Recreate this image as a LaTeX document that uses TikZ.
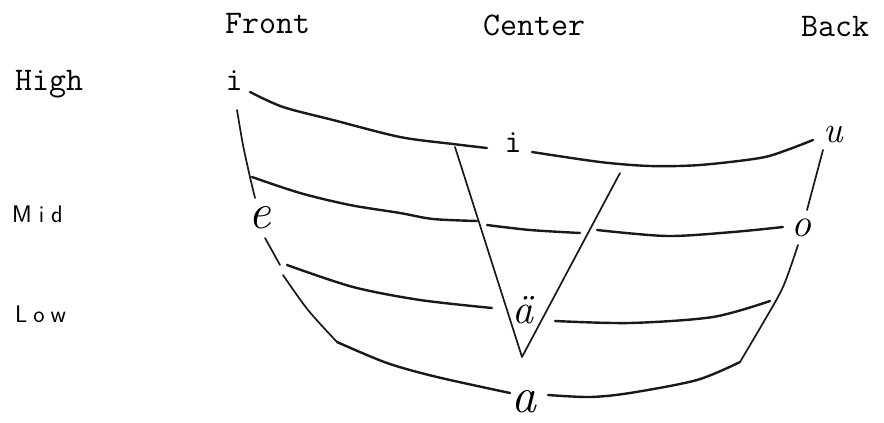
\documentclass[tikz,border=0pt]{standalone}
\usetikzlibrary{positioning}
\begin{document}
\begin{tikzpicture}[x=1pt, y=-1pt,
        typed/.style={font=\ttfamily\fontsize{33}{36}\selectfont, inner sep=0pt},
        hand/.style={font=\itshape\fontsize{50}{52}\selectfont, inner sep=0pt},
        small/.style={font=\sffamily\fontsize{24}{26}\selectfont, inner sep=0pt, anchor=base west},
        heavy/.style={line width=2.4pt, line cap=round, line join=round, black!90},
        light/.style={line width=1.7pt, line cap=round, line join=round, black!90}
      ]
      \useasboundingbox (0,0) rectangle (884,423);
      \node[typed, anchor=base west] (front)  at (225,33) {Front};
      \node[typed, anchor=base west] (center) at (483,35) {Center};
      \node[typed, anchor=base west] (back)   at (801,36) {Back};
      \node[typed, anchor=base west] (high)   at (15,90)  {High};
      \node[small] (mid) at (12,222) {M\hspace{7pt}i\hspace{7pt}d};
      \node[small] (low) at (15,322) {L\hspace{6pt}o\hspace{6pt}w};

      \node[typed, anchor=base] (ifront)  at (234,90)  {i};
      \node[typed, anchor=base] (icenter) at (513,152) {i};
      \node[hand, font=\itshape\fontsize{37}{40}\selectfont] (u) at (833,135) {u};
      \node[hand] (e) at (260,218) {e};
      \node[hand, font=\itshape\fontsize{40}{42}\selectfont] (o) at (801,228) {o};
      \node[hand, anchor=base, font=\itshape\fontsize{42}{44}\selectfont] (auml) at (523,323) {ä};
      \node[hand, anchor=base] (a) at (524,412) {a};

      \coordinate (vleft)  at (455,147);
      \coordinate (vtip)   at (522,357);
      \coordinate (vright) at (620,173);

      \draw[heavy] plot[smooth] coordinates {(250,92) (283,107) (333,120) (400,137) (453,144) (487,148)};
      \draw[heavy] plot[smooth] coordinates {(532,152) (600,162) (650,166) (700,165) (760,158) (787,150) (813,140)};
      \draw[heavy] plot[smooth] coordinates {(252,177) (300,193) (350,205) (400,213) (433,219) (477,221)};
      \draw[heavy] plot[smooth] coordinates {(487,225) (530,230) (580,233)};
      \draw[heavy] plot[smooth] coordinates {(597,230) (667,236) (733,232) (783,227)};
      \draw[heavy] plot[smooth] coordinates {(287,265) (353,287) (420,300) (492,308)};
      \draw[heavy] plot[smooth] coordinates {(555,321) (630,323) (713,317) (770,301)};
      \draw[heavy] plot[smooth] coordinates {(337,342) (387,363) (437,377) (510,393)};
      \draw[heavy] plot[smooth] coordinates {(548,395) (590,397) (630,393) (697,380) (740,362)};

      \draw[light] plot[smooth] coordinates {(237,110) (243,145) (250,177) (255,198)};
      \draw[light] (265,238) -- (280,265);
      \draw[light] plot[smooth] coordinates {(283,275) (308,310) (337,342)};
      \draw[light] plot[smooth] coordinates {(823,150) (815,180) (807,210)};
      \draw[light] plot[smooth] coordinates {(798,245) (783,287) (763,323) (740,362)};
      \draw[light] (vleft) -- (vtip) -- (vright);
    \end{tikzpicture}
\end{document}
